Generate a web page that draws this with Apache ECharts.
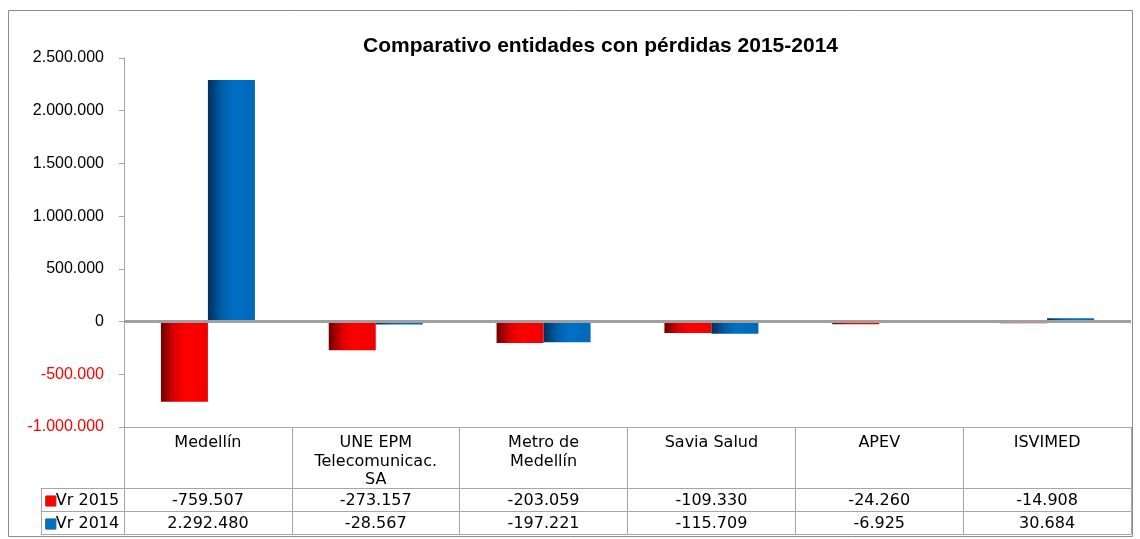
<!DOCTYPE html>
<html>
<head>
<meta charset="utf-8">
<script src="https://cdn.jsdelivr.net/npm/echarts@6/dist/echarts.min.js"></script>
<style>html,body{margin:0;padding:0;background:#fff;}#c{width:1140px;height:539px;}</style>
</head>
<body>
<div id="c"></div>
<script>
const categories = ['Medellín', 'UNE EPM\nTelecomunicac.\nSA', 'Metro de\nMedellín', 'Savia Salud', 'APEV', 'ISVIMED'];
const vr2015 = [-759507, -273157, -203059, -109330, -24260, -14908];
const vr2014 = [2292480, -28567, -197221, -115709, -6925, 30684];
const seriesNames = ['Vr 2015', 'Vr 2014'];
const yTicks = { min: -1000000, max: 2500000, interval: 500000 };

function fmt(n) {
  const s = Math.abs(Math.round(n)).toString().replace(/\B(?=(\d{3})+(?!\d))/g, '.');
  return (n < 0 ? '-' : '') + s;
}
const GRID_LEFT = 124, GRID_RIGHT = 9, GRID_TOP = 58, GRID_BOTTOM = 112;
const HEADER_H = 61, ROW_H = 23;
const lineGray = '#a6a6a6';
const FONT = 'Liberation Sans, Arial, sans-serif';
const TFONT = 'DejaVu Sans, sans-serif';

const redGrad = new echarts.graphic.LinearGradient(0, 0, 1, 0, [
  {offset: 0, color: '#6e0000'}, {offset: 0.3, color: '#e00000'}, {offset: 0.55, color: '#ff0000'}, {offset: 1, color: '#f00000'}
]);
const blueGrad = new echarts.graphic.LinearGradient(0, 0, 1, 0, [
  {offset: 0, color: '#00305e'}, {offset: 0.3, color: '#005fa8'}, {offset: 0.55, color: '#0070c6'}, {offset: 1, color: '#0068b8'}
]);

const rowLabelStyle = {interval: 0, margin: 5, fontFamily: TFONT, fontSize: 16, color: '#000'};

const chart = echarts.init(document.getElementById('c'), null, {renderer: 'canvas'});
const option = {
  backgroundColor: '#fff',
  animation: false,
  title: {
    text: 'Comparativo entidades con pérdidas 2015-2014',
    left: 358, top: 31,
    textStyle: {fontFamily: FONT, fontSize: 21, fontWeight: 'bold', color: '#000'}
  },
  graphic: [{
    type: 'rect', shape: {x: 8.5, y: 10.5, width: 1124, height: 526},
    style: {fill: 'none', stroke: '#8c8c8c', lineWidth: 1}, silent: true
  }],
  grid: [
    {left: GRID_LEFT, right: GRID_RIGHT, top: GRID_TOP, bottom: GRID_BOTTOM},
    {left: 41, width: GRID_LEFT - 41, top: GRID_TOP, bottom: GRID_BOTTOM}
  ],
  yAxis: [
    {
      type: 'value', gridIndex: 0, min: yTicks.min, max: yTicks.max, interval: yTicks.interval,
      axisLine: {show: true, lineStyle: {color: lineGray}},
      axisTick: {show: true, length: 5, lineStyle: {color: lineGray}},
      splitLine: {show: false},
      axisLabel: {
        margin: 20, fontFamily: FONT, fontSize: 16,
        formatter: v => fmt(v),
        color: v => (v < 0 ? '#ff0000' : '#000')
      }
    },
    {type: 'value', gridIndex: 1, show: false}
  ],
  xAxis: [
    {
      type: 'category', gridIndex: 0, data: categories, position: 'bottom',
      axisLine: {show: true, onZero: false, lineStyle: {color: lineGray}},
      axisTick: {show: true, length: HEADER_H, interval: 0, lineStyle: {color: lineGray}},
      axisLabel: {interval: 0, margin: 7, fontFamily: TFONT, fontSize: 16, lineHeight: 18.5, color: '#000'}
    },
    {
      type: 'category', gridIndex: 0, data: categories, position: 'bottom', offset: HEADER_H,
      axisLine: {show: true, onZero: false, lineStyle: {color: lineGray}},
      axisTick: {show: true, length: ROW_H, interval: 0, lineStyle: {color: lineGray}},
      axisLabel: Object.assign({}, rowLabelStyle, {formatter: (v, i) => fmt(vr2015[i])})
    },
    {
      type: 'category', gridIndex: 0, data: categories, position: 'bottom', offset: HEADER_H + ROW_H,
      axisLine: {show: true, onZero: false, lineStyle: {color: lineGray}},
      axisTick: {show: true, length: ROW_H, interval: 0, lineStyle: {color: lineGray}},
      axisLabel: Object.assign({}, rowLabelStyle, {formatter: (v, i) => fmt(vr2014[i])})
    },
    {
      type: 'category', gridIndex: 0, data: categories, position: 'bottom', offset: HEADER_H + 2 * ROW_H,
      axisLine: {show: true, onZero: false, lineStyle: {color: lineGray}},
      axisTick: {show: false}, axisLabel: {show: false}
    },
    {
      type: 'category', gridIndex: 1, data: [seriesNames[0]], position: 'bottom', offset: HEADER_H,
      axisLine: {show: true, onZero: false, lineStyle: {color: lineGray}},
      axisTick: {show: true, length: ROW_H, lineStyle: {color: lineGray}},
      axisLabel: Object.assign({}, rowLabelStyle, {
        formatter: v => '{r|}' + v,
        rich: {r: {width: 10, height: 10, backgroundColor: '#ff0000', borderColor: '#900000', borderWidth: 0.5}}})
    },
    {
      type: 'category', gridIndex: 1, data: [seriesNames[1]], position: 'bottom', offset: HEADER_H + ROW_H,
      axisLine: {show: true, onZero: false, lineStyle: {color: lineGray}},
      axisTick: {show: true, length: ROW_H, lineStyle: {color: lineGray}},
      axisLabel: Object.assign({}, rowLabelStyle, {
        formatter: v => '{r|}' + v,
        rich: {r: {width: 10, height: 10, backgroundColor: '#0070c0', borderColor: '#003060', borderWidth: 0.5}}})
    },
    {
      type: 'category', gridIndex: 1, data: [''], position: 'bottom', offset: HEADER_H + 2 * ROW_H,
      axisLine: {show: true, onZero: false, lineStyle: {color: lineGray}},
      axisTick: {show: false}, axisLabel: {show: false}
    }
  ],
  series: [
    {
      name: seriesNames[0], type: 'bar', xAxisIndex: 0, yAxisIndex: 0, data: vr2015,
      barWidth: 47, barGap: '0%', itemStyle: {color: redGrad},
      markLine: {
        silent: true, symbol: 'none', label: {show: false},
        lineStyle: {color: '#a0a0a0', width: 3, type: 'solid'},
        data: [{yAxis: 0}]
      },
      z: 3
    },
    {
      name: seriesNames[1], type: 'bar', xAxisIndex: 0, yAxisIndex: 0, data: vr2014,
      barWidth: 47, barGap: '0%', itemStyle: {color: blueGrad}, z: 3
    }
  ]
};
chart.setOption(option);
</script>
</body>
</html>
